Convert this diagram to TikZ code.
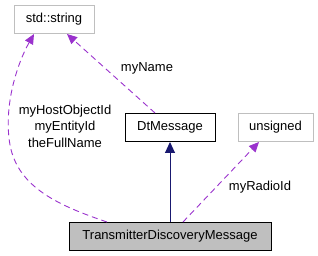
\documentclass[tikz,border=0pt]{standalone}
\usepackage{fontspec}
\setmainfont{Liberation Sans}
\usetikzlibrary{arrows.meta}
\definecolor{edgepurple}{HTML}{9A32CD}
\definecolor{navyedge}{HTML}{191970}
\definecolor{grey75}{HTML}{BFBFBF}
\begin{document}
\begin{tikzpicture}[x=1pt,y=-1pt,
  every node/.style={font=\fontsize{13}{16}\selectfont, inner sep=0pt},
  cls/.style={draw=black, line width=1pt, minimum height=28pt, anchor=center},
  ext/.style={draw=grey75, line width=1pt, minimum height=28pt, anchor=center},
  usage/.style={draw=edgepurple, line width=0.9pt, dash pattern=on 6pt off 4pt,
     -{Triangle[length=10pt,width=9pt,fill=edgepurple]}},
  inherit/.style={draw=navyedge, line width=1pt,
     -{Triangle[length=11pt,width=10pt,fill=navyedge]}},
  lbl/.style={align=center, font=\fontsize{13}{16.5}\selectfont}]
\useasboundingbox (0,0) rectangle (318,256);
\node[ext, minimum width=80pt] (str) at (54,19.5) {std::string};
\node[cls, minimum width=90pt] (dt) at (170,127.5) {DtMessage};
\node[ext, minimum width=75pt] (uns) at (275.5,127.5) {unsigned};
\node[cls, fill=grey75, minimum width=202pt] (tdm) at (170,236) {TransmitterDiscoveryMessage};
\coordinate (strA) at (34,34);
\coordinate (strB) at (67,34);
\coordinate (unsB) at (259,142);
\coordinate (dtT) at (155,113);
\coordinate (tdmL) at (107,222);
\coordinate (tdmR) at (183,222);
\draw[inherit] (tdm.north) -- (dt.south);
\draw[usage] (dtT) -- (strB);
\draw[usage] (tdmL) .. controls (60,206) and (18,188) .. (10,145)
   .. controls (3,105) and (18,62) .. (strA);
\draw[usage] (tdmR) -- (unsB);
\node[lbl] (lname) at (147,68) {myName};
\node[lbl] (lhost) at (65,126) {myHostObjectId\\myEntityId\\theFullName};
\node[lbl] (lradio) at (260,187) {myRadioId};
\end{tikzpicture}
\end{document}
